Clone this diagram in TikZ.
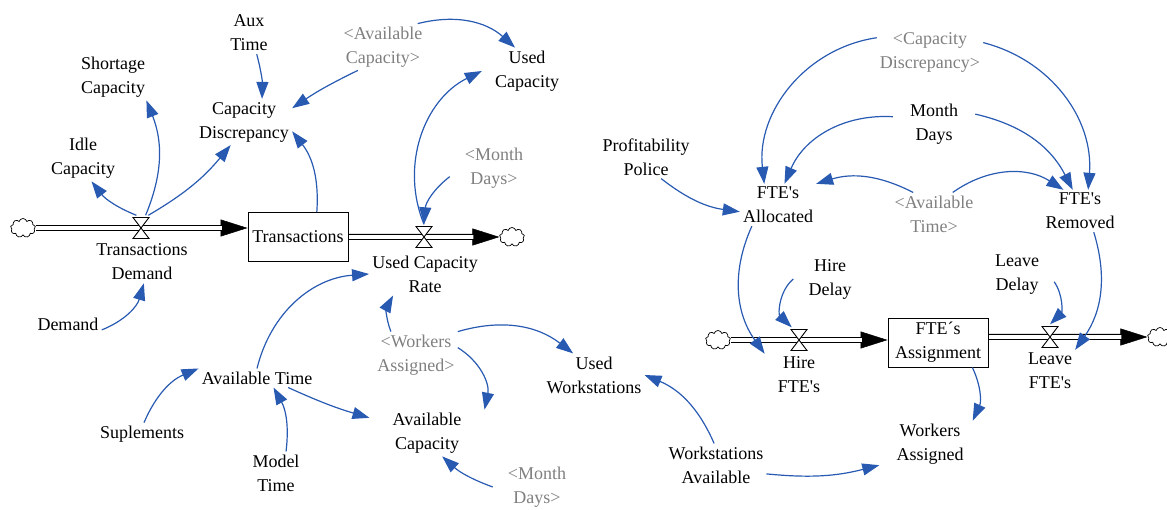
\documentclass[tikz,border=0pt]{standalone}
\usepackage{fontspec}
\setmainfont{Liberation Serif}[Ligatures=TeXOff]
\usepackage{tikz}
\usetikzlibrary{positioning,arrows.meta,shapes.symbols,backgrounds}
\definecolor{linkblue}{RGB}{40,90,178}
\definecolor{shadowgray}{RGB}{128,128,128}
\tikzset{
  var/.style={align=center, inner sep=3pt},
  shadowvar/.style={var, text=shadowgray},
  stock/.style={draw, fill=white, line width=0.9pt, minimum width=100pt, minimum height=49pt, align=center, inner sep=1pt},
  valve/.style={minimum width=20pt, minimum height=25pt, inner sep=0pt,
    path picture={\filldraw[fill=white, line width=0.9pt]
      ([shift={(-8pt,10.5pt)}]path picture bounding box.center) -- ([shift={(8pt,10.5pt)}]path picture bounding box.center)
      -- ([shift={(-8pt,-10.5pt)}]path picture bounding box.center) -- ([shift={(8pt,-10.5pt)}]path picture bounding box.center) -- cycle;}},
  source/.style={cloud, cloud puffs=9, cloud ignores aspect, draw, fill=white, line width=0.7pt, minimum width=25pt, minimum height=19pt, inner sep=0pt},
  pipe/.style={double, double distance=3.6pt, line width=1.2pt, shorten >=26pt},
  pipetip/.style={line width=0.5pt, -{Triangle[length=27pt,width=17pt]}},
  link/.style={draw=linkblue, line width=1.2pt, -{Triangle[length=17pt,width=12pt]}}
}
\begin{document}
\begin{tikzpicture}[x=1pt, y=-1pt, every edge/.style={link},
    every node/.style={font=\fontsize{18}{24}\selectfont}]
  \useasboundingbox (0,0) rectangle (1167,510);
  % transactions side
  \node[source] (src1) at (23,228) {};
  \node[valve] (v1) at (141,228) {};
  \node[var] (td) at (142,262) {Transactions\\Demand};
  \node[stock] (trans) at (298,237) {Transactions};
  \node[valve] (v2) at (424,237) {};
  \node[var] (ucr) at (425,274) {Used Capacity\\Rate};
  \node[source] (snk1) at (512,237) {};
  \node[var] (idle) at (83,158) {Idle\\Capacity};
  \node[var] (short) at (113,77) {Shortage\\Capacity};
  \node[var] (capdisc) at (244,122) {Capacity\\Discrepancy};
  \node[var] (aux) at (249,33) {Aux\\Time};
  \node[shadowvar] (avcap1) at (383,47) {<Available\\Capacity>};
  \node[var] (usedcap) at (527,71) {Used\\Capacity};
  \node[shadowvar] (md1) at (494,168) {<Month\\Days>};
  \node[var] (demand) at (68,324) {Demand};
  \node[var] (avtime) at (257,378) {Available Time};
  \node[var] (sup) at (142,434) {Suplements};
  \node[var] (modtime) at (276,473) {Model\\Time};
  \node[shadowvar] (wa1) at (416,355) {<Workers\\Assigned>};
  \node[var] (usedws) at (594,375) {Used\\Workstations};
  \node[var] (avcap2) at (427,433) {Available\\Capacity};
  \node[shadowvar] (md2) at (537,487) {<Month\\Days>};
  \node[var] (wsa) at (716,465) {Workstations\\Available};
  % staff side
  \node[var] (prof) at (646,157) {Profitability\\Police};
  \node[shadowvar] (capdisc2) at (930,52) {<Capacity\\Discrepancy>};
  \node[var] (md3) at (934,124) {Month\\Days};
  \node[var] (alloc) at (778,205) {FTE's\\Allocated};
  \node[shadowvar] (avtime2) at (934,214) {<Available\\Time>};
  \node[var] (removed) at (1080,211) {FTE's\\Removed};
  \node[var] (hdelay) at (830,279) {Hire\\Delay};
  \node[var] (ldelay) at (1017,275) {Leave\\Delay};
  \node[source] (src2) at (718,340) {};
  \node[valve] (v3) at (799,340) {};
  \node[var] (hire) at (799,375) {Hire\\FTE's};
  \node[stock] (assign) at (938,342.5) {FTE´s\\Assignment};
  \node[valve] (v4) at (1050,337) {};
  \node[var] (leave) at (1050,371) {Leave\\FTE's};
  \node[source] (snk2) at (1160,337) {};
  \node[var] (workers) at (930,444) {Workers\\Assigned};

  \begin{scope}[on background layer]
    \draw[pipetip] (v1) -- (src1 -| trans.west);
    \draw[pipe] (src1) -- (src1 -| trans.west);
    \draw[pipetip] (v2) -- (snk1);
    \draw[pipe] (trans.east |- v2) -- (snk1);
    \draw[pipetip] (v3) -- (src2 -| assign.west);
    \draw[pipe] (src2) -- (src2 -| assign.west);
    \draw[pipetip] (v4) -- (snk2);
    \draw[pipe] (assign.east |- v4) -- (snk2);
  \end{scope}

  \path
    (v1.110) edge[bend left=15] (idle.-70)
    (v1.70) edge[bend right=22] (short.-35)
    (v1.60) edge[bend right=10] (capdisc.-120)
    (trans.53) edge[bend right=21] (capdisc.-11)
    (aux.-70) edge[bend left=8] (capdisc.52)
    (avcap1.-137) edge[bend right=4] (capdisc.16)
    (avcap1.34) edge[bend left=28] (usedcap.117)
    (v2.north) edge[bend left=43] ([xshift=-10pt]usedcap.west)
    ([xshift=-12pt]md1.-165) edge[bend right=24] (v2.north)
    (demand.-10) edge[bend right=26] (td.-85)
    (avtime.north) edge[bend left=36] (ucr.west)
    (wa1.137) edge[bend left=25] (ucr.-146)
    (wa1.north east) edge[bend left=27] (usedws.134)
    (wa1.10) edge[bend left=35] ([xshift=20pt]avcap2.north east)
    (sup.80) edge[bend left=22] (avtime.north west)
    (modtime.65) edge[bend right=18] (avtime.-30)
    (avtime.-17) edge[bend right=4] ([xshift=-20pt]avcap2.158)
    ([xshift=-12pt]md2.west) edge[bend left=11] (avcap2.-57)
    (wsa.95) edge[bend right=22] (usedws.east)
    (wsa.-10) edge[bend right=10] ([xshift=-14pt]workers.-150)
    (assign.-36) edge[bend left=25] ([xshift=6pt]workers.north east);

  \path
    (prof.-55) edge[bend right=15] (alloc.190)
    (capdisc2.165) edge[bend right=44] (alloc.123)
    (capdisc2.10) edge[bend left=40] (removed.69)
    ([xshift=-14pt]md3.165) edge[bend right=35] (alloc.73)
    ([xshift=14pt]md3.20) edge[bend left=25] (removed.109)
    (avtime2.134) edge[bend right=22] (alloc.north east)
    (avtime2.49) edge[bend left=34] (removed.128)
    (alloc.-141) edge[bend right=30] ([xshift=-10pt]hire.north west)
    ([xshift=-12pt]hdelay.west) edge[bend right=48] (v3.120)
    ([xshift=12pt]ldelay.-15) edge[bend left=40] (v4.north)
    (removed.-57) edge[bend left=26] (leave.north east);
\end{tikzpicture}
\end{document}
